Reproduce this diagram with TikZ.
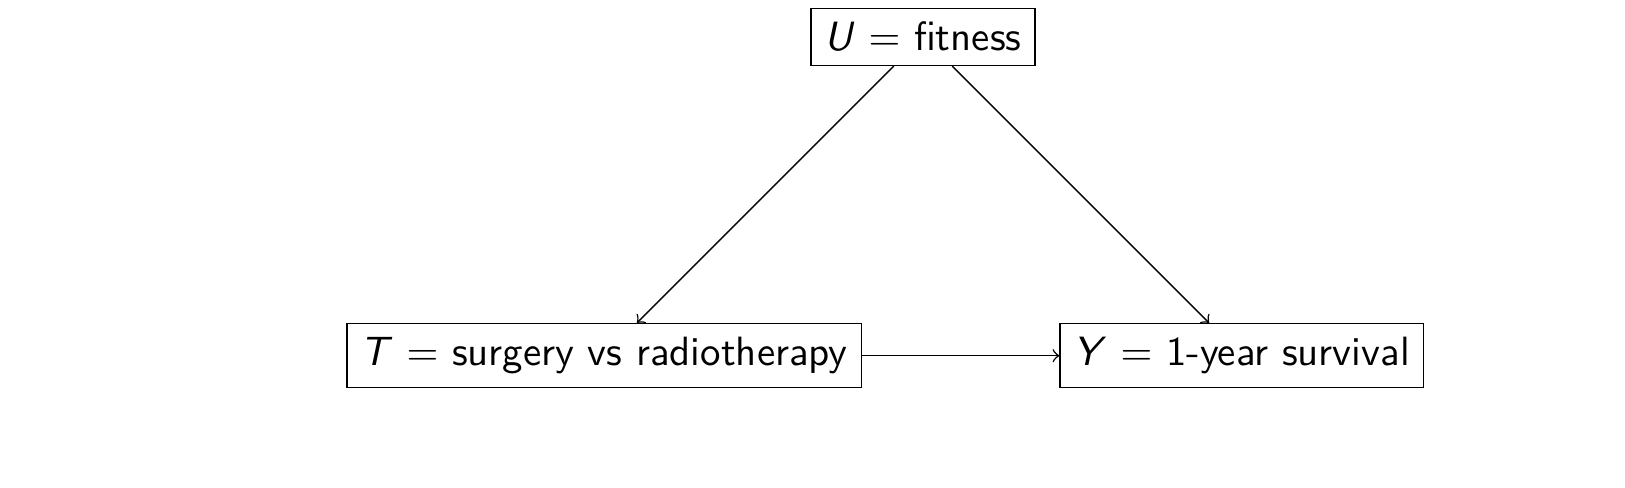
\documentclass[tikz,border=0pt,11pt]{standalone}
\renewcommand{\familydefault}{\sfdefault}
\usetikzlibrary{positioning}
\newcommand{\var}[1]{\textit{#1}}

\begin{document}
\begin{tikzpicture}[arrow/.style={->}, box/.style={draw, rectangle}]

        \useasboundingbox (-5.685,-1.243) rectangle (9.605,3.347);

        \node [box] (treat) at (0,0) {\var{T} $=$ surgery vs radiotherapy};
        \node [box] (outcome) at (6,0) {\var{Y} $=$ 1-year survival};
        \node [box] (fitness) at (3,3) {\var{U} $=$ fitness};

        \draw[arrow] (fitness) -- (treat);
        \draw[arrow] (fitness) -- (outcome);
        \draw[arrow] (treat) -- (outcome);

    \end{tikzpicture}
\end{document}
